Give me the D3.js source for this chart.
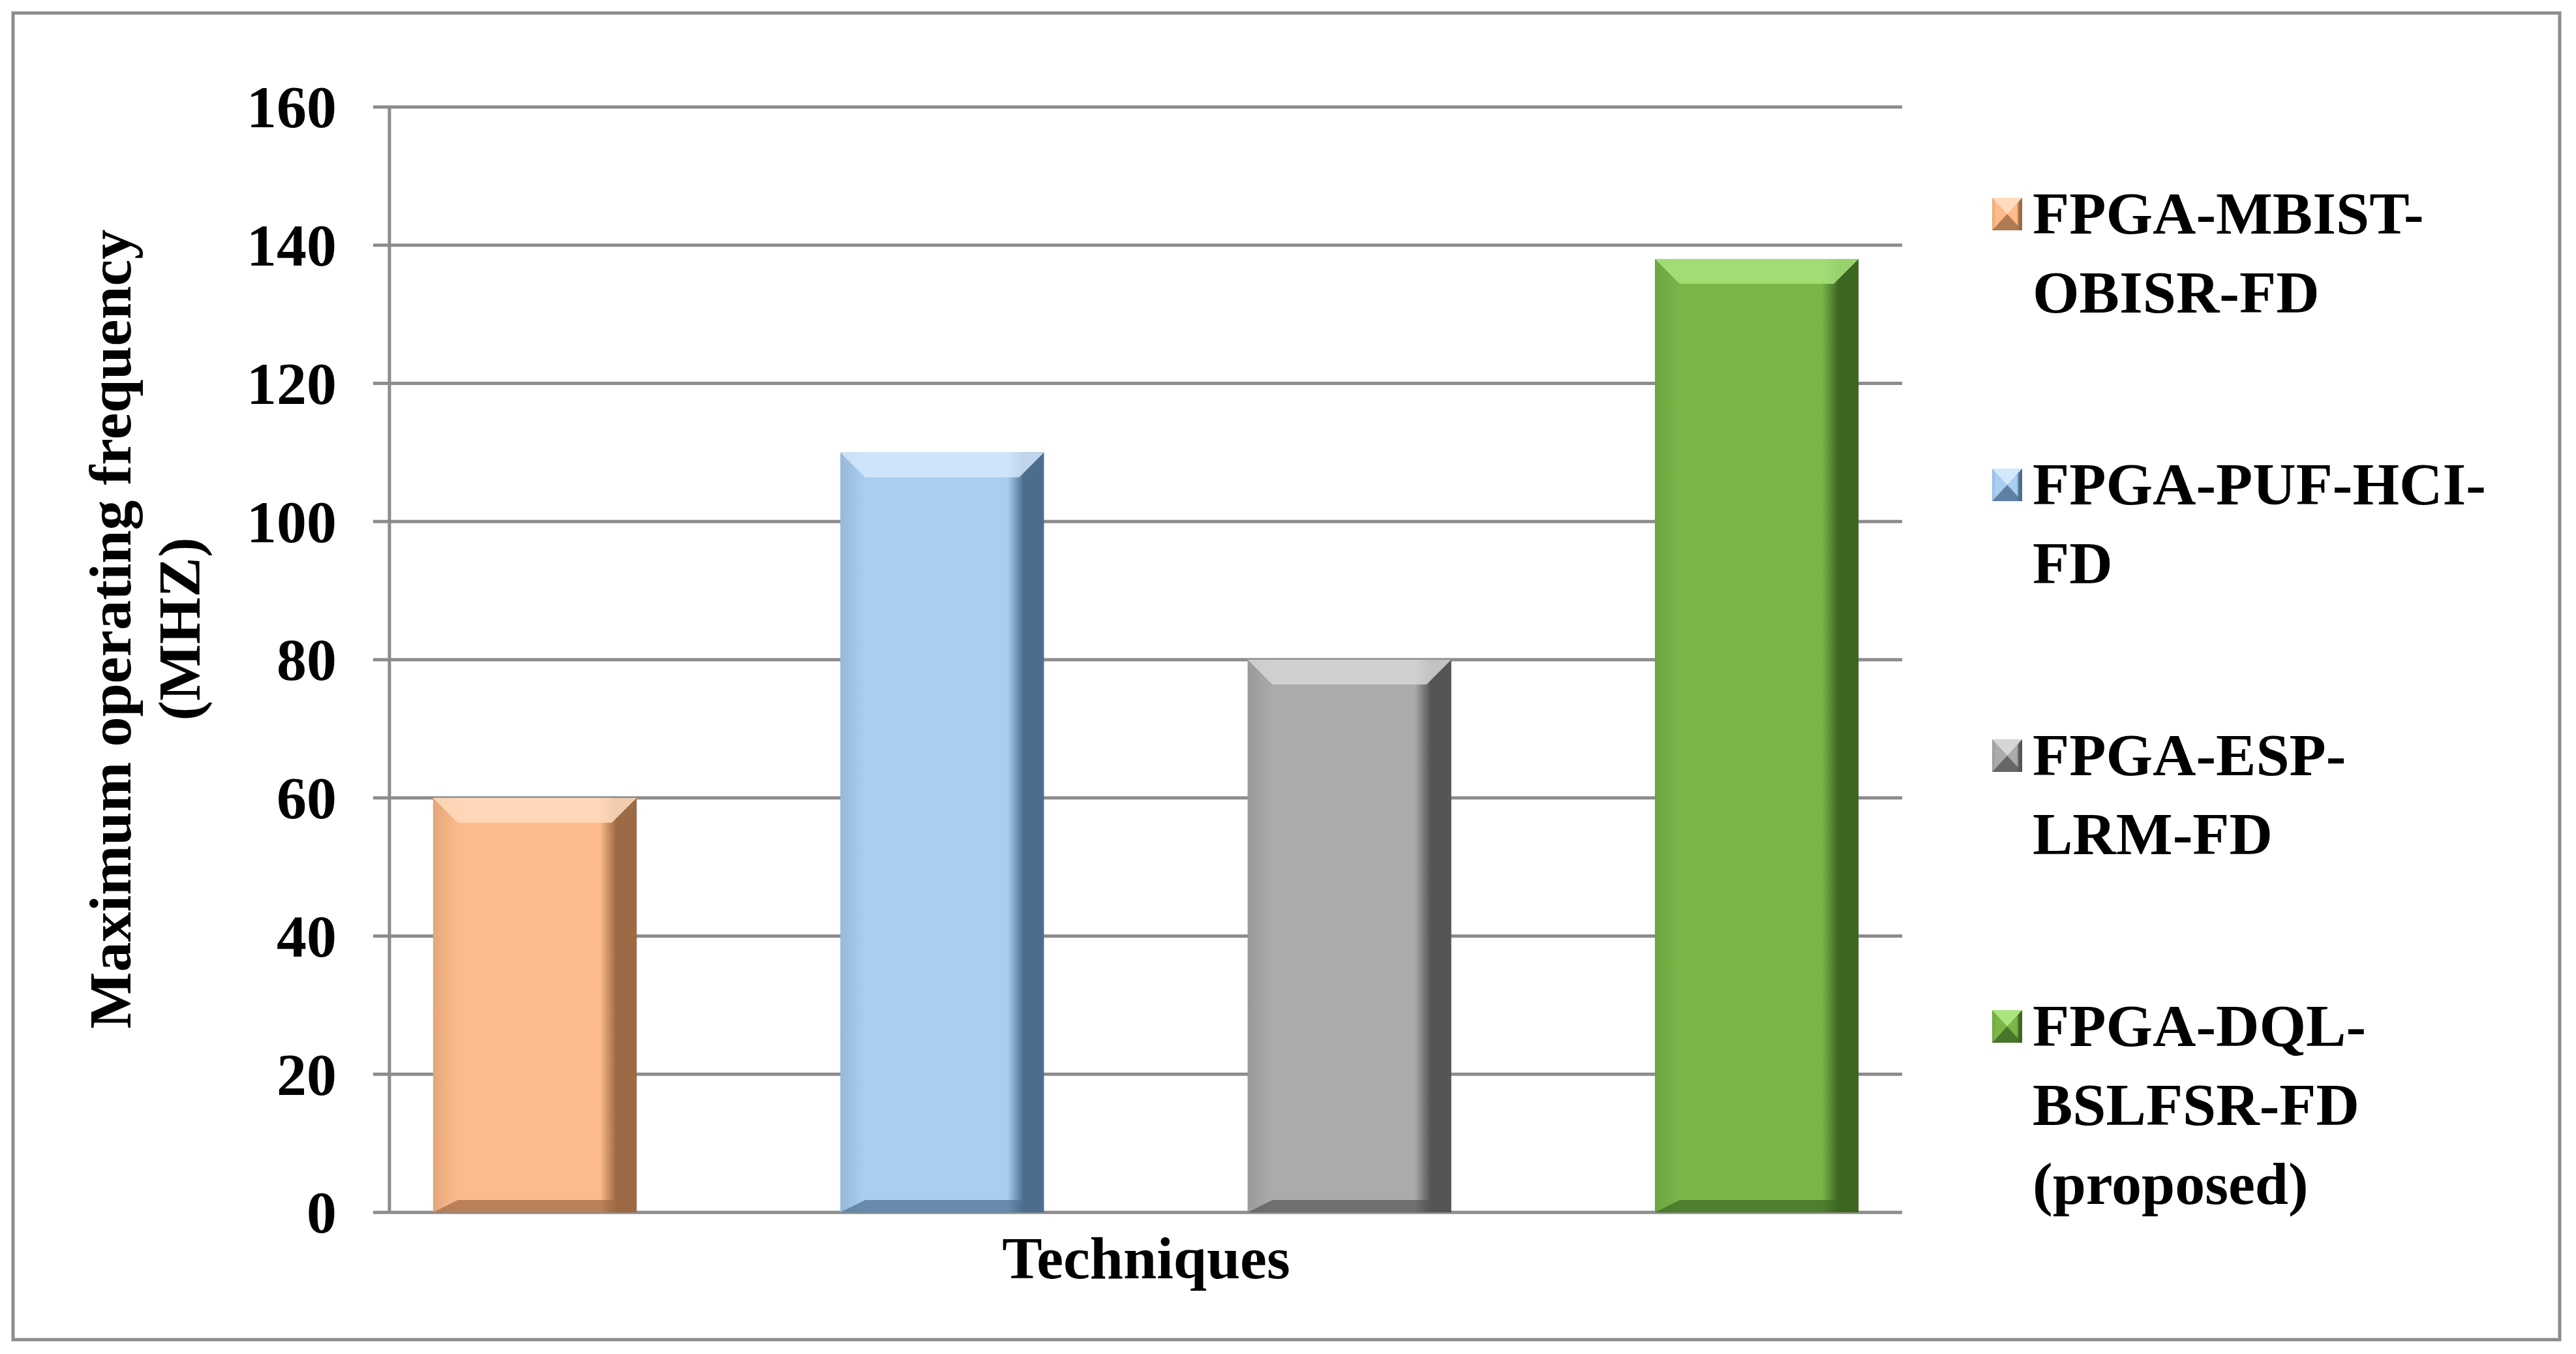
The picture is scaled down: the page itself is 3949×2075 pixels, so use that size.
<!DOCTYPE html>
<html><head><meta charset="utf-8">
<script src="https://cdn.jsdelivr.net/npm/d3@7"></script>
<style>body{margin:0;background:#fff}text{font-family:"Liberation Serif","Times New Roman",serif;font-weight:bold}</style>
</head><body><div id="chart"></div>
<script>
// data
var series = ["FPGA-MBIST-OBISR-FD", "FPGA-PUF-HCI-FD", "FPGA-ESP-LRM-FD", "FPGA-DQL-BSLFSR-FD (proposed)"];
var legendLines = [["FPGA-MBIST-", "OBISR-FD"], ["FPGA-PUF-HCI-", "FD"], ["FPGA-ESP-", "LRM-FD"], ["FPGA-DQL-", "BSLFSR-FD", "(proposed)"]];
var values = [60, 110, 80, 138];
var colors = ["#FDBA8A", "#A8CEF2", "#ABABAB", "#7AB648"];
var darks = ["#9c6a45", "#4d6d8e", "#555555", "#3d6623"];
var lights = ["#ffdcbf", "#d3e8fb", "#d6d6d6", "#a9e47c"];
var yTicks = [0, 20, 40, 60, 80, 100, 120, 140, 160];

var W = 3949, H = 2075;
var plotLeft = 597, plotRight = 2916, plotTop = 164, plotBottom = 1858;

var svg = d3.select("#chart").append("svg").attr("width", W).attr("height", H);
svg.append("rect").attr("x", 20).attr("y", 20).attr("width", 3904).attr("height", 2033)
	.attr("fill", "#fff").attr("stroke", "#8c8c8c").attr("stroke-width", 5);

var y = d3.scaleLinear().domain([0, 160]).range([plotBottom, plotTop]);
var x = d3.scaleBand().domain(series).range([plotLeft, plotRight]).paddingInner(0.5).paddingOuter(0.107);

// gridlines
svg.append("g").selectAll("line").data(yTicks).enter().append("line")
	.attr("x1", plotLeft - 25).attr("x2", plotRight)
	.attr("y1", function(d) { return y(d); }).attr("y2", function(d) { return y(d); })
	.attr("stroke", "#8c8c8c").attr("stroke-width", 5);
svg.append("line").attr("x1", plotLeft).attr("x2", plotLeft).attr("y1", plotTop).attr("y2", plotBottom)
	.attr("stroke", "#8c8c8c").attr("stroke-width", 5);

svg.append("g").selectAll("text").data(yTicks).enter().append("text")
	.attr("x", 516).attr("y", function(d) { return y(d); }).attr("dy", "0.34em")
	.attr("text-anchor", "end").attr("font-size", 92).text(function(d) { return d; });

// gradients
var defs = svg.append("defs");
colors.forEach(function(c, i) {
	var g = defs.append("linearGradient").attr("id", "g" + i);
	g.append("stop").attr("offset", "0").attr("stop-color", d3.color(c).darker(0.3));
	g.append("stop").attr("offset", "0.12").attr("stop-color", c);
	g.append("stop").attr("offset", "0.82").attr("stop-color", c);
	g.append("stop").attr("offset", "0.9").attr("stop-color", darks[i]);
	g.append("stop").attr("offset", "1").attr("stop-color", darks[i]);
});

var bev = 38;
var bars = svg.append("g").selectAll("g").data(values).enter().append("g");
bars.append("rect")
	.attr("x", function(d, i) { return x(series[i]); })
	.attr("y", function(d) { return y(d); })
	.attr("width", x.bandwidth())
	.attr("height", function(d) { return y(0) - y(d); })
	.attr("fill", function(d, i) { return "url(#g" + i + ")"; });
// top bevel
bars.append("path").attr("d", function(d, i) {
	var x0 = x(series[i]), x1 = x0 + x.bandwidth(), yt = y(d);
	return "M" + x0 + "," + yt + "L" + x1 + "," + yt + "L" + (x1 - bev) + "," + (yt + bev) + "L" + (x0 + bev) + "," + (yt + bev) + "Z";
}).attr("fill", function(d, i) { return lights[i]; }).attr("opacity", 0.85);
// bottom bevel
bars.append("path").attr("d", function(d, i) {
	var x0 = x(series[i]), x1 = x0 + x.bandwidth(), yb = y(0);
	return "M" + x0 + "," + yb + "L" + x1 + "," + yb + "L" + (x1 - bev) + "," + (yb - bev / 2) + "L" + (x0 + bev) + "," + (yb - bev / 2) + "Z";
}).attr("fill", function(d, i) { return darks[i]; }).attr("opacity", 0.7);

// axis titles
var yt = svg.append("text").attr("transform", "translate(200,964) rotate(-90)")
	.attr("text-anchor", "middle").attr("font-size", 92);
yt.append("tspan").attr("x", 0).attr("dy", 0).text("Maximum operating frequency");
yt.append("tspan").attr("x", 0).attr("dy", 106).text("(MHZ)");
svg.append("text").attr("x", 1757).attr("y", 1959).attr("text-anchor", "middle")
	.attr("font-size", 92).text("Techniques");

// legend
var lg = svg.append("g").selectAll("g").data(legendLines).enter().append("g")
	.attr("transform", function(d, i) { return "translate(3054," + (358 + i * 415) + ")"; });
lg.append("rect").attr("x", 0).attr("y", -55).attr("width", 46).attr("height", 50)
	.attr("fill", function(d, i) { return "url(#g" + i + ")"; });
lg.append("path").attr("d", "M0,-55L46,-55L23,-30Z").attr("fill", function(d, i) { return lights[i]; });
lg.append("path").attr("d", "M0,-5L46,-5L23,-30Z").attr("fill", function(d, i) { return darks[i]; }).attr("opacity", 0.8);
lg.each(function(lines) {
	var t = d3.select(this).append("text").attr("x", 62).attr("font-size", 92);
	lines.forEach(function(l, j) { t.append("tspan").attr("x", 62).attr("y", j * 121).text(l); });
});
</script></body></html>
